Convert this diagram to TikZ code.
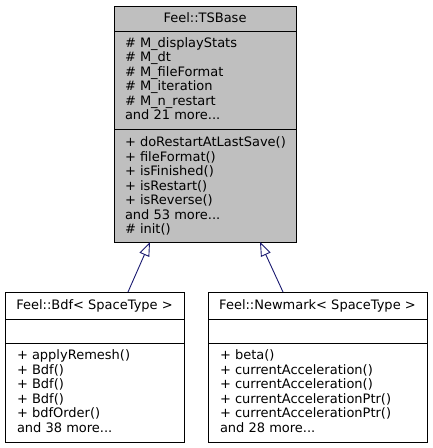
\documentclass[tikz,border=0pt]{standalone}
\usepackage{fontspec}
\setmainfont{DejaVu Sans}
\usetikzlibrary{arrows.meta}
\definecolor{boxgrey}{HTML}{BFBFBF}
\definecolor{edgeblue}{HTML}{191970}
\newcommand\tdots{.{}.{}.}
\begin{document}
\begin{tikzpicture}[x=1pt,y=-1pt,
  cls/.style={draw=black, line width=0.8pt, inner sep=0pt, outer sep=0pt},
  txt/.style={inner sep=0pt, outer sep=0pt, font=\fontsize{13}{14.5}\selectfont, anchor=base west},
  ttl/.style={inner sep=0pt, outer sep=0pt, font=\fontsize{13}{14.5}\selectfont, anchor=base},
  sep/.style={draw=black, line width=0.8pt},
  inherit/.style={draw=edgeblue, line width=0.9pt, -{Triangle[open, length=14pt, width=10.5pt]}}]
\useasboundingbox (0,0) rectangle (432,448);
% Feel::TSBase
\node[cls, fill=boxgrey, minimum width=182pt, minimum height=236pt] (tsbase) at (205,124) {};
\draw[sep] (tsbase.west |- 0,31) -- (tsbase.east |- 0,31);
\draw[sep] (tsbase.west |- 0,129) -- (tsbase.east |- 0,129);
\node[ttl] (tstitle) at (205,22) {Feel::TSBase};
\foreach \t [count=\i] in {\# M\_displayStats, \# M\_dt, \# M\_fileFormat, \# M\_iteration, \# M\_n\_restart, and 21 more\tdots}
  \node[txt] (tsa\i) at (125,{47.2+14.5*(\i-1)}) {\t};
\foreach \t [count=\i] in {+ doRestartAtLastSave(), + fileFormat(), + isFinished(), + isRestart(), + isReverse(), and 53 more\tdots, \# init()}
  \node[txt] (tsm\i) at (125,{146.5+14.5*(\i-1)}) {\t};
% Feel::Bdf
\node[cls, fill=white, minimum width=179pt, minimum height=150pt] (bdf) at (94.5,367) {};
\draw[sep] (bdf.west |- 0,319) -- (bdf.east |- 0,319);
\draw[sep] (bdf.west |- 0,343) -- (bdf.east |- 0,343);
\node[ttl] (bdftitle) at (94.5,309) {Feel::Bdf< SpaceType >};
\foreach \t [count=\i] in {+ applyRemesh(), + Bdf(), + Bdf(), + Bdf(), + bdfOrder(), and 38 more\tdots}
  \node[txt] (bdfm\i) at (17,{359.5+14.5*(\i-1)}) {\t};
% Feel::Newmark
\node[cls, fill=white, minimum width=219pt, minimum height=150pt] (newmark) at (317.5,367) {};
\draw[sep] (newmark.west |- 0,319) -- (newmark.east |- 0,319);
\draw[sep] (newmark.west |- 0,343) -- (newmark.east |- 0,343);
\node[ttl] (nmtitle) at (317.5,309) {Feel::Newmark< SpaceType >};
\foreach \t [count=\i] in {+ beta(), + currentAcceleration(), + currentAcceleration(), + currentAccelerationPtr(), + currentAccelerationPtr(), and 28 more\tdots}
  \node[txt] (nmm\i) at (220,{359.5+14.5*(\i-1)}) {\t};
% inheritance
\draw[inherit] ([xshift=33.5pt]bdf.north) -- ([xshift=-55pt]tsbase.south);
\draw[inherit] ([xshift=-34.5pt]newmark.north) -- ([xshift=55pt]tsbase.south);
\end{tikzpicture}
\end{document}
